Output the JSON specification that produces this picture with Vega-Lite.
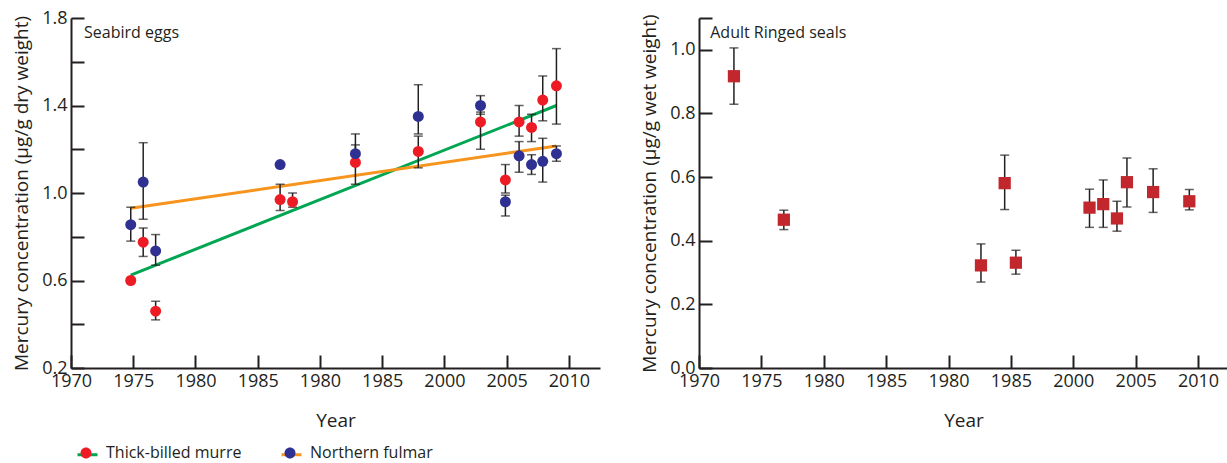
{
  "$schema": "https://vega.github.io/schema/vega-lite/v6.json",
  "padding": {"left": 12, "top": 9, "right": 0, "bottom": 0},
  "background": "white",
  "config": {
    "font": "Open Sans",
    "view": {"stroke": null},
    "axis": {
      "domainColor": "#231f20", "domainWidth": 2,
      "tickColor": "#231f20", "tickWidth": 2, "tickSize": -13,
      "labelPadding": 17, "labelFontSize": 18, "labelColor": "#231f20", "labelFont": "Open Sans",
      "labelFlush": false, "labelOverlap": false,
      "titleFontSize": 19, "titleFontWeight": "normal", "titleColor": "#231f20", "titleFont": "Open Sans",
      "grid": false
    }
  },
  "datasets": {
    "birds": [
      {"species": "Thick-billed murre", "year": 1974.8, "value": 0.60, "lo": null, "hi": null},
      {"species": "Thick-billed murre", "year": 1975.8, "value": 0.775, "lo": 0.71, "hi": 0.84},
      {"species": "Thick-billed murre", "year": 1976.8, "value": 0.46, "lo": 0.42, "hi": 0.505},
      {"species": "Thick-billed murre", "year": 1986.8, "value": 0.97, "lo": 0.92, "hi": 1.04},
      {"species": "Thick-billed murre", "year": 1987.8, "value": 0.96, "lo": 0.935, "hi": 1.0},
      {"species": "Thick-billed murre", "year": 1992.85, "value": 1.14, "lo": 1.04, "hi": 1.27},
      {"species": "Thick-billed murre", "year": 1997.9, "value": 1.19, "lo": 1.115, "hi": 1.26},
      {"species": "Thick-billed murre", "year": 2002.9, "value": 1.325, "lo": 1.20, "hi": 1.37},
      {"species": "Thick-billed murre", "year": 2004.9, "value": 1.06, "lo": 1.0, "hi": 1.13},
      {"species": "Thick-billed murre", "year": 2006.0, "value": 1.325, "lo": 1.26, "hi": 1.40},
      {"species": "Thick-billed murre", "year": 2007.0, "value": 1.30, "lo": 1.235, "hi": 1.36},
      {"species": "Thick-billed murre", "year": 2007.9, "value": 1.425, "lo": 1.33, "hi": 1.535},
      {"species": "Thick-billed murre", "year": 2009.0, "value": 1.49, "lo": 1.315, "hi": 1.66},
      {"species": "Northern fulmar", "year": 1974.8, "value": 0.855, "lo": 0.78, "hi": 0.935},
      {"species": "Northern fulmar", "year": 1975.8, "value": 1.05, "lo": 0.88, "hi": 1.23},
      {"species": "Northern fulmar", "year": 1976.8, "value": 0.735, "lo": 0.67, "hi": 0.81},
      {"species": "Northern fulmar", "year": 1986.8, "value": 1.13, "lo": null, "hi": null},
      {"species": "Northern fulmar", "year": 1992.85, "value": 1.18, "lo": 1.14, "hi": 1.22},
      {"species": "Northern fulmar", "year": 1997.9, "value": 1.35, "lo": 1.27, "hi": 1.495},
      {"species": "Northern fulmar", "year": 2002.9, "value": 1.40, "lo": 1.36, "hi": 1.445},
      {"species": "Northern fulmar", "year": 2004.9, "value": 0.96, "lo": 0.895, "hi": 0.99},
      {"species": "Northern fulmar", "year": 2006.0, "value": 1.17, "lo": 1.095, "hi": 1.235},
      {"species": "Northern fulmar", "year": 2007.0, "value": 1.13, "lo": 1.085, "hi": 1.175},
      {"species": "Northern fulmar", "year": 2007.9, "value": 1.145, "lo": 1.05, "hi": 1.25},
      {"species": "Northern fulmar", "year": 2009.0, "value": 1.18, "lo": 1.145, "hi": 1.215}
    ],
    "trends": [
      {"series": "murre", "year": 1974.8, "value": 0.625},
      {"series": "murre", "year": 2009.0, "value": 1.40},
      {"series": "fulmar", "year": 1974.8, "value": 0.93},
      {"series": "fulmar", "year": 2009.0, "value": 1.215}
    ],
    "seals": [
      {"year": 1972.8, "value": 0.917, "lo": 0.829, "hi": 1.006},
      {"year": 1976.8, "value": 0.466, "lo": 0.435, "hi": 0.496},
      {"year": 1992.6, "value": 0.3225, "lo": 0.27, "hi": 0.39},
      {"year": 1994.5, "value": 0.581, "lo": 0.498, "hi": 0.669},
      {"year": 1995.4, "value": 0.331, "lo": 0.295, "hi": 0.37},
      {"year": 2001.3, "value": 0.504, "lo": 0.442, "hi": 0.562},
      {"year": 2002.4, "value": 0.515, "lo": 0.442, "hi": 0.591},
      {"year": 2003.5, "value": 0.47, "lo": 0.43, "hi": 0.524},
      {"year": 2004.3, "value": 0.584, "lo": 0.506, "hi": 0.66},
      {"year": 2006.4, "value": 0.553, "lo": 0.489, "hi": 0.626},
      {"year": 2009.3, "value": 0.524, "lo": 0.497, "hi": 0.561}
    ]
  },
  "spacing": 40,
  "hconcat": [
    {
      "width": 529,
      "height": 350,
      "layer": [
        {
          "data": {"name": "trends"},
          "mark": {"type": "line", "strokeWidth": 3},
          "encoding": {
            "x": {"field": "year", "type": "quantitative",
              "scale": {"domain": [1970, 2012.5], "nice": false, "zero": false},
              "axis": {"values": [1970, 1975, 1980, 1985, 1990, 1995, 2000, 2005, 2010],
                "labelExpr": "datum.value == 1990 ? '1980' : datum.value == 1995 ? '1985' : datum.label",
                "format": "d", "title": "Year", "titlePadding": 21}},
            "y": {"field": "value", "type": "quantitative",
              "scale": {"domain": [0.2, 1.8], "nice": false, "zero": false},
              "axis": {"values": [0.2, 0.4, 0.6, 0.8, 1.0, 1.2, 1.4, 1.6, 1.8],
                "labelExpr": "round(datum.value*10) % 4 == 2 ? format(datum.value, '.1f') : ''",
                "title": "Mercury concentration (µg/g dry weight)", "titlePadding": 10}},
            "color": {"field": "series", "type": "nominal",
              "scale": {"domain": ["murre", "fulmar"], "range": ["#00a651", "#f7941d"]},
              "legend": {"orient": "none", "legendX": 5, "legendY": 425, "direction": "horizontal", "title": null,
                "symbolType": "stroke", "symbolSize": 400, "symbolStrokeWidth": 3,
                "labelExpr": "datum.value == 'murre' ? 'Thick-billed murre' : 'Northern fulmar'",
                "labelFontSize": 16, "labelOffset": 10, "columnPadding": 30, "labelOpacity": 0}}
          }
        },
        {
          "data": {"name": "birds"},
          "transform": [{"filter": "isValid(datum.lo)"}],
          "mark": {"type": "rule", "color": "#231f20", "strokeWidth": 1.5},
          "encoding": {
            "x": {"field": "year", "type": "quantitative"},
            "y": {"field": "lo", "type": "quantitative"},
            "y2": {"field": "hi"}
          }
        },
        {
          "data": {"name": "birds"},
          "transform": [{"filter": "isValid(datum.lo)"}],
          "mark": {"type": "tick", "orient": "horizontal", "color": "#231f20", "size": 9, "thickness": 1.5},
          "encoding": {
            "x": {"field": "year", "type": "quantitative"},
            "y": {"field": "lo", "type": "quantitative"}
          }
        },
        {
          "data": {"name": "birds"},
          "transform": [{"filter": "isValid(datum.hi)"}],
          "mark": {"type": "tick", "orient": "horizontal", "color": "#231f20", "size": 9, "thickness": 1.5},
          "encoding": {
            "x": {"field": "year", "type": "quantitative"},
            "y": {"field": "hi", "type": "quantitative"}
          }
        },
        {
          "data": {"name": "birds"},
          "mark": {"type": "point", "shape": "circle", "filled": true, "size": 121, "opacity": 1, "strokeWidth": 0},
          "encoding": {
            "x": {"field": "year", "type": "quantitative"},
            "y": {"field": "value", "type": "quantitative"},
            "fill": {"field": "species", "type": "nominal",
              "scale": {"domain": ["Thick-billed murre", "Northern fulmar"], "range": ["#ed1c24", "#2e3192"]},
              "legend": {"orient": "none", "legendX": 5, "legendY": 425, "direction": "horizontal", "title": null,
                "symbolType": "M-0.55,0A0.55,0.55 0 1,1 0.55,0A0.55,0.55 0 1,1 -0.55,0Z", "symbolSize": 400, "symbolStrokeWidth": 0,
                "labelFontSize": 16, "labelOffset": 10, "columnPadding": 38, "labelColor": "#231f20"}}
          }
        },
        {
          "data": {"values": [{}]},
          "mark": {"type": "text", "align": "left", "baseline": "middle", "fontSize": 16, "color": "#231f20"},
          "encoding": {
            "x": {"datum": 1971.05, "type": "quantitative"},
            "y": {"datum": 1.73, "type": "quantitative"},
            "text": {"value": "Seabird eggs"}
          }
        }
      ]
    },
    {
      "width": 529,
      "height": 350,
      "data": {"name": "seals"},
      "layer": [
        {
          "mark": {"type": "rule", "color": "#231f20", "strokeWidth": 1.5},
          "encoding": {
            "x": {"field": "year", "type": "quantitative",
              "scale": {"domain": [1970, 2012.4], "nice": false, "zero": false},
              "axis": {"values": [1970, 1975, 1980, 1985, 1990, 1995, 2000, 2005, 2010],
                "labelExpr": "datum.value == 1990 ? '1980' : datum.value == 1995 ? '1985' : datum.label",
                "format": "d", "title": "Year", "titlePadding": 21}},
            "y": {"field": "lo", "type": "quantitative",
              "scale": {"domain": [0, 1.1], "nice": false, "zero": false},
              "axis": {"values": [0, 0.2, 0.4, 0.6, 0.8, 1.0, 1.1],
                "labelExpr": "datum.value > 1.05 ? '' : format(datum.value, '.1f')",
                "title": "Mercury concentration (µg/g wet weight)", "titlePadding": 10}},
            "y2": {"field": "hi"}
          }
        },
        {
          "mark": {"type": "tick", "orient": "horizontal", "color": "#231f20", "size": 9, "thickness": 1.5},
          "encoding": {
            "x": {"field": "year", "type": "quantitative"},
            "y": {"field": "lo", "type": "quantitative"}
          }
        },
        {
          "mark": {"type": "tick", "orient": "horizontal", "color": "#231f20", "size": 9, "thickness": 1.5},
          "encoding": {
            "x": {"field": "year", "type": "quantitative"},
            "y": {"field": "hi", "type": "quantitative"}
          }
        },
        {
          "mark": {"type": "square", "size": 150, "color": "#c1272d", "opacity": 1},
          "encoding": {
            "x": {"field": "year", "type": "quantitative"},
            "y": {"field": "value", "type": "quantitative"}
          }
        },
        {
          "data": {"values": [{}]},
          "mark": {"type": "text", "align": "left", "baseline": "middle", "fontSize": 16, "color": "#231f20"},
          "encoding": {
            "x": {"datum": 1970.9, "type": "quantitative"},
            "y": {"datum": 1.053, "type": "quantitative"},
            "text": {"value": "Adult Ringed seals"}
          }
        }
      ]
    }
  ]
}
